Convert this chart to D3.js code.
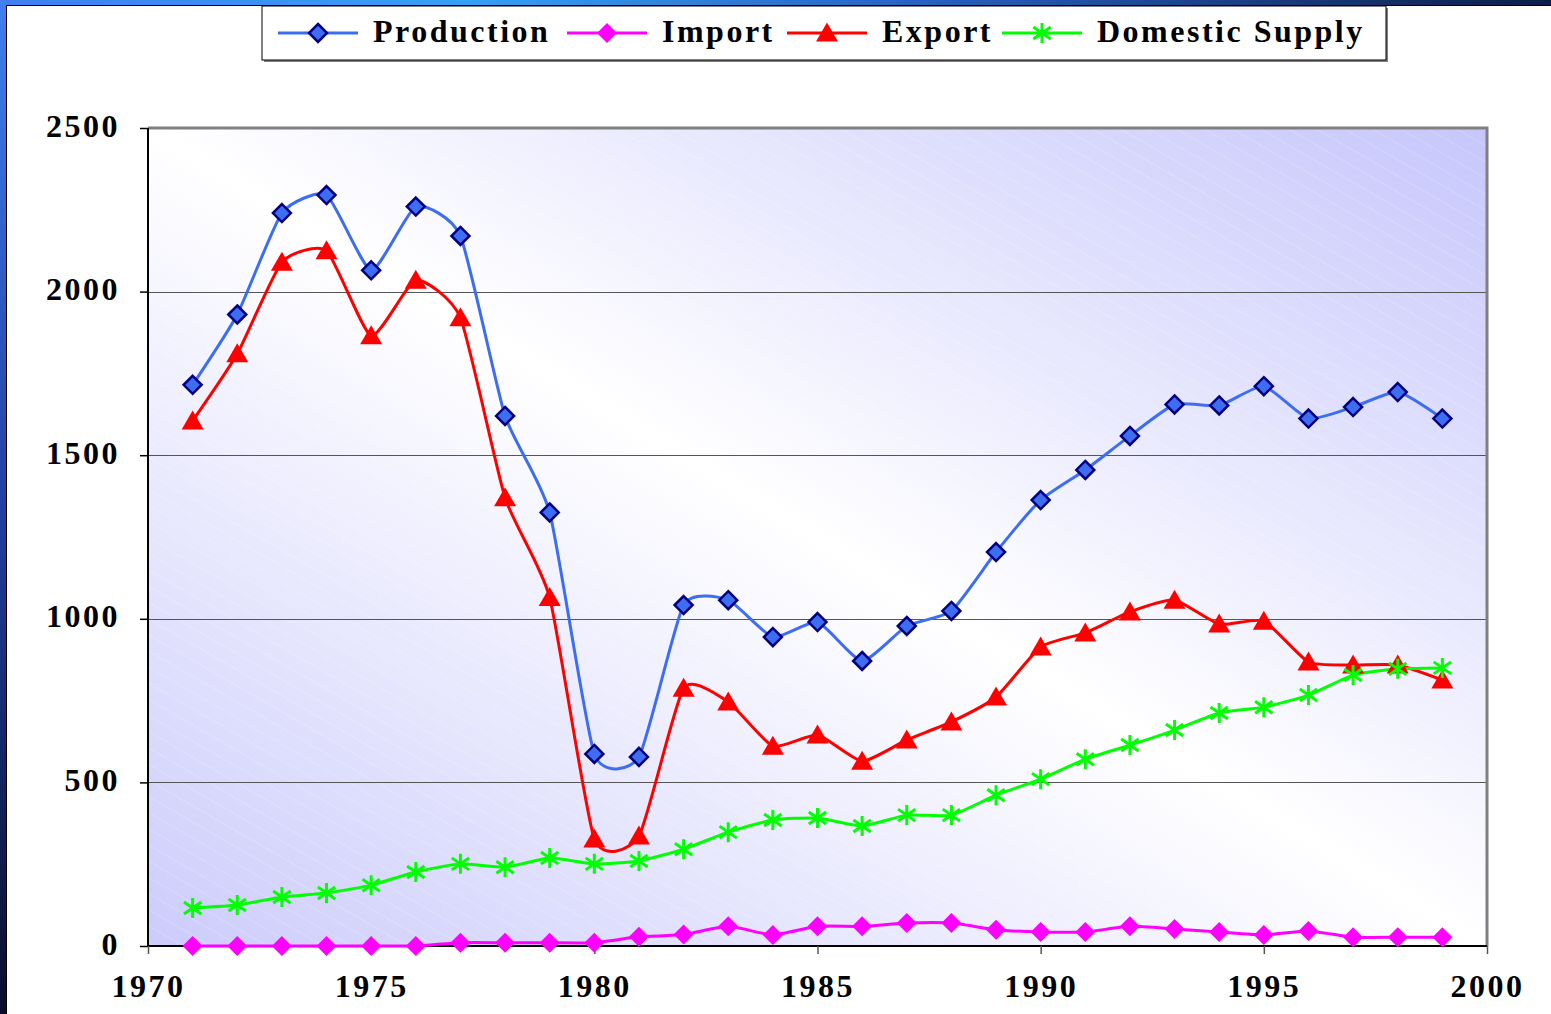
<!DOCTYPE html>
<html><head><meta charset="utf-8">
<script src="https://cdn.jsdelivr.net/npm/d3@7"></script>
<style>
html,body{margin:0;padding:0;background:#fff;}
svg{display:block;}
text{font-family:"Liberation Serif","Times New Roman",serif;font-weight:bold;}
</style></head>
<body>
<svg id="chart" width="1551" height="1014"></svg>
<script>
const years = [1971,1972,1973,1974,1975,1976,1977,1978,1979,1980,1981,1982,1983,1984,1985,1986,1987,1988,1989,1990,1991,1992,1993,1994,1995,1996,1997,1998,1999];
const production = [1715,1930,2240,2295,2065,2260,2170,1620,1325,587,578,1042,1057,944,990,871,978,1024,1204,1363,1455,1559,1655,1652,1711,1612,1647,1693,1612];
const importData = [0,0,0,0,0,0,10,10,10,10,28,35,60,34,60,60,70,70,50,43,43,60,52,43,34,46,27,27,27];
const exportData = [1605,1810,2090,2125,1865,2035,1920,1370,1065,327,336,788,746,611,645,565,630,685,761,914,957,1021,1057,984,993,868,859,859,813];
const domestic = [116,125,150,162,186,226,251,241,269,251,260,296,348,385,391,367,400,400,461,510,571,614,660,712,730,767,828,847,850];
const seriesNames = ["Production","Import","Export","Domestic Supply"];
const yTicks = [0,500,1000,1500,2000,2500];
const xTicks = [1970,1975,1980,1985,1990,1995,2000];

const svg = d3.select("#chart");
const defs = svg.append("defs");

const gTop = defs.append("linearGradient").attr("id","gTop").attr("x1",0).attr("x2",1).attr("y1",0).attr("y2",0);
gTop.append("stop").attr("offset","0").attr("stop-color","#3f7ff0");
gTop.append("stop").attr("offset","0.3").attr("stop-color","#35a0f5");
gTop.append("stop").attr("offset","0.6").attr("stop-color","#2860c0");
gTop.append("stop").attr("offset","1").attr("stop-color","#0c1e48");
const gLeft = defs.append("linearGradient").attr("id","gLeft").attr("x1",0).attr("x2",0).attr("y1",0).attr("y2",1);
gLeft.append("stop").attr("offset","0").attr("stop-color","#4080f0");
gLeft.append("stop").attr("offset","0.5").attr("stop-color","#2040a0");
gLeft.append("stop").attr("offset","1").attr("stop-color","#0a0c2a");

const gPlot = defs.append("linearGradient").attr("id","gPlot").attr("x1",0).attr("y1",1).attr("x2",1).attr("y2",0);
gPlot.append("stop").attr("offset","0").attr("stop-color","#ccccfc");
gPlot.append("stop").attr("offset","0.5").attr("stop-color","#ffffff");
gPlot.append("stop").attr("offset","1").attr("stop-color","#c6c6fc");
const pat = defs.append("pattern").attr("id","stripes").attr("width",14).attr("height",14)
  .attr("patternUnits","userSpaceOnUse").attr("patternTransform","rotate(-60)");
pat.append("line").attr("x1",0).attr("y1",0).attr("x2",0).attr("y2",14)
  .attr("stroke","#ffffff").attr("stroke-width",1).attr("stroke-opacity",0.35);

svg.append("rect").attr("x",0).attr("y",0).attr("width",1551).attr("height",5).attr("fill","url(#gTop)");
svg.append("rect").attr("x",0).attr("y",0).attr("width",7).attr("height",1014).attr("fill","url(#gLeft)");
svg.append("line").attr("x1",6.5).attr("x2",6.5).attr("y1",5).attr("y2",1014).attr("stroke","#000").attr("stroke-width",1);
svg.append("line").attr("x1",6).attr("x2",1551).attr("y1",5.5).attr("y2",5.5).attr("stroke","#000").attr("stroke-width",1);

const L = 148, R = 1487, T = 128, B = 946;
const x = d3.scaleLinear().domain([1970,2000]).range([L,R]);
const y = d3.scaleLinear().domain([0,2500]).range([B,T]);

svg.append("rect").attr("x",L).attr("y",T).attr("width",R-L).attr("height",B-T).attr("fill","url(#gPlot)");
svg.append("rect").attr("x",L).attr("y",T).attr("width",R-L).attr("height",B-T).attr("fill","url(#stripes)");

svg.append("g").selectAll("line").data(yTicks.filter(d=>d>0 && d<2500)).join("line")
  .attr("x1",L).attr("x2",R).attr("y1",d=>Math.round(y(d))+0.5).attr("y2",d=>Math.round(y(d))+0.5)
  .attr("stroke","#555").attr("stroke-width",1);
svg.append("path").attr("d",`M${L},${T} H${R} V${B}`).attr("fill","none").attr("stroke","#808080").attr("stroke-width",3);

const yAxis = d3.axisLeft(y).tickValues(yTicks).tickSize(8).tickPadding(20).tickFormat(d3.format("d"));
const gy = svg.append("g").attr("transform",`translate(${L},0)`).call(yAxis);
const xAxis = d3.axisBottom(x).tickValues(xTicks).tickSize(8).tickPadding(21).tickFormat(d3.format("d"));
const gx = svg.append("g").attr("transform",`translate(0,${B})`).call(xAxis);
[gy,gx].forEach(g=>{
  g.select(".domain").attr("stroke","#000").attr("stroke-width",2);
  g.selectAll(".tick line").attr("stroke","#000").attr("stroke-width",1.5);
  g.selectAll("text").attr("fill","#000").style("font-size","32px").style("letter-spacing","2.5px")
    .style("font-family","'Liberation Serif','Times New Roman',serif").style("font-weight","bold");
});
gy.selectAll("text").attr("dy","0.25em");
gx.selectAll("text").attr("dy","0.68em");
gx.selectAll(".tick line").attr("stroke","#555");
gx.select(".domain").attr("d",`M${L},0H${R}`);
gy.select(".domain").attr("d",`M0,${B}V${T}`);

const styles = [
  {name:seriesNames[0], data:production, color:"#3d6ef2", marker:"diamondOutlined"},
  {name:seriesNames[1], data:importData, color:"#ff00ff", marker:"diamond"},
  {name:seriesNames[2], data:exportData, color:"#ff0000", marker:"triangle"},
  {name:seriesNames[3], data:domestic, color:"#00ff00", marker:"star"}
];

const line = d3.line().x(d=>x(d[0])).y(d=>y(d[1])).curve(d3.curveCardinal.tension(0.45));

function drawMarker(g, type, color, cx, cy, scale=1){
  if(type==="diamondOutlined"){
    const s=9*scale;
    g.append("path").attr("d",`M${cx},${cy-s}L${cx+s},${cy}L${cx},${cy+s}L${cx-s},${cy}Z`)
      .attr("fill",color).attr("stroke","#000080").attr("stroke-width",2.5);
  } else if(type==="diamond"){
    const s=10*scale;
    g.append("path").attr("d",`M${cx},${cy-s}L${cx+s},${cy}L${cx},${cy+s}L${cx-s},${cy}Z`).attr("fill",color);
  } else if(type==="triangle"){
    const w=11*scale, h=19*scale;
    g.append("path").attr("d",`M${cx},${cy-h*0.55}L${cx+w},${cy+h*0.45}L${cx-w},${cy+h*0.45}Z`).attr("fill",color);
  } else if(type==="star"){
    const s=10*scale;
    g.append("path").attr("d",`M${cx},${cy-s}V${cy+s}M${cx-s*0.87},${cy-s*0.6}L${cx+s*0.87},${cy+s*0.6}M${cx-s*0.87},${cy+s*0.6}L${cx+s*0.87},${cy-s*0.6}`)
      .attr("stroke",color).attr("stroke-width",3).attr("fill","none");
  }
}

const plotG = svg.append("g");
styles.forEach(s=>{
  const pts = years.map((yr,i)=>[yr,s.data[i]]);
  plotG.append("path").datum(pts).attr("d",line).attr("fill","none").attr("stroke",s.color).attr("stroke-width",3);
});
styles.forEach(s=>{
  const mg = plotG.append("g");
  years.forEach((yr,i)=>drawMarker(mg,s.marker,s.color,x(yr),y(s.data[i])));
});

const lg = svg.append("g");
lg.append("rect").attr("x",264).attr("y",8).attr("width",1124).attr("height",54).attr("fill","#808080");
lg.append("rect").attr("x",262).attr("y",6).attr("width",1124).attr("height",54).attr("fill","#fff").attr("stroke","#000").attr("stroke-width",1);
const legX = [278,567,787,1002];
styles.forEach((s,i)=>{
  const lx = legX[i], ly = 33;
  lg.append("line").attr("x1",lx).attr("x2",lx+80).attr("y1",ly).attr("y2",ly).attr("stroke",s.color).attr("stroke-width",3);
  drawMarker(lg,s.marker,s.color,lx+40,ly);
  lg.append("text").attr("x",lx+95).attr("y",ly).attr("dy","0.28em").text(s.name)
    .style("font-size","32px").style("letter-spacing","2.5px").attr("fill","#000");
});
</script>
</body></html>
